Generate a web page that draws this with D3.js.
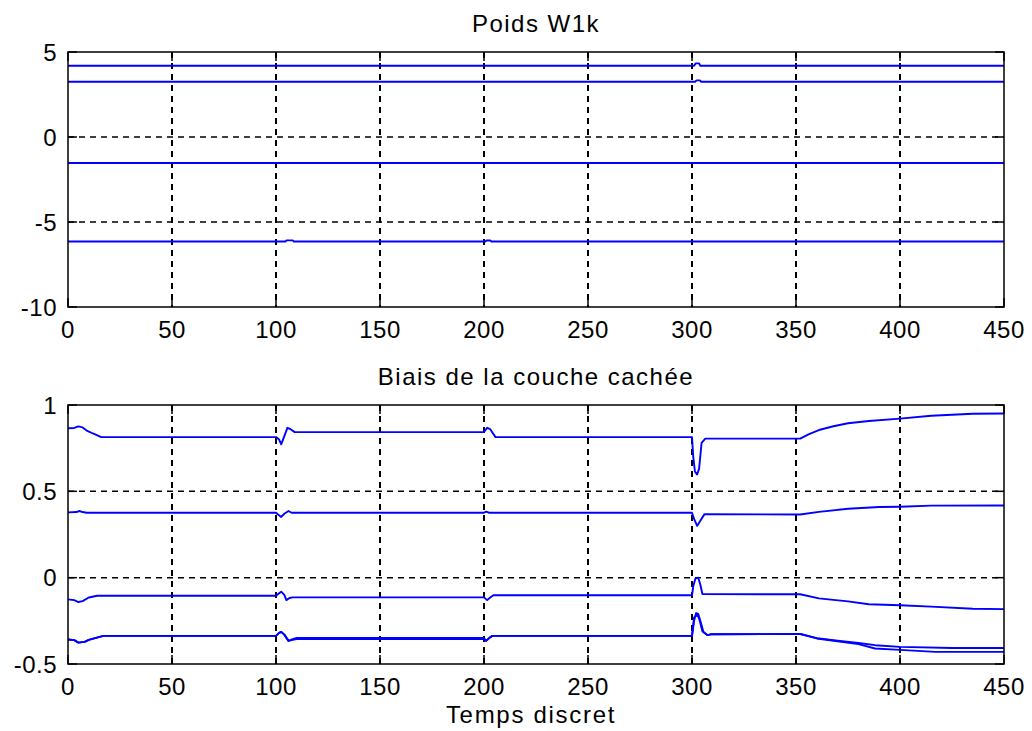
<!DOCTYPE html>
<html>
<head>
<meta charset="utf-8">
<script src="https://cdn.jsdelivr.net/npm/d3@7"></script>
<style>
  body { margin: 0; background: #fff; }
  text { font-family: "Liberation Sans", Arial, sans-serif; fill: #000; }
</style>
</head>
<body>
<div id="chart"></div>
<script>
// x ticks shared by both panels
const timeTicks = [0, 50, 100, 150, 200, 250, 300, 350, 400, 450];

// top panel: Poids W1k, points are [t, value]
const weightTicks = [-10, -5, 0, 5];
const w1 = [[0, 4.19], [301, 4.19], [301.8, 4.33], [303.4, 4.33], [304, 4.19], [450, 4.19]];
const w2 = [[0, 3.25], [301.5, 3.25], [302.2, 3.33], [303.8, 3.33], [304.4, 3.25], [450, 3.25]];
const w3 = [[0, -1.53], [450, -1.53]];
const w4 = [[0, -6.15], [104.5, -6.15], [105.2, -6.08], [108, -6.08], [108.6, -6.15],
            [200.6, -6.15], [201.2, -6.09], [203, -6.09], [203.6, -6.15], [450, -6.15]];

// bottom panel: Biais de la couche cachée
const biasTicks = [-0.5, 0, 0.5, 1];
const b1 = [[0, 0.865], [3, 0.867], [5, 0.876], [7, 0.87], [9, 0.852], [12, 0.835], [16, 0.814],
            [100, 0.814], [101.5, 0.8], [102.5, 0.772], [104, 0.82], [105.5, 0.868], [107, 0.86], [109, 0.843],
            [200, 0.843], [201.5, 0.868], [203, 0.86], [205.5, 0.814],
            [300, 0.814], [300.6, 0.7], [301.4, 0.615], [302.4, 0.597], [303.4, 0.63], [304.6, 0.78], [306.4, 0.805],
            [352, 0.805], [356, 0.83], [361, 0.855], [368, 0.877], [375, 0.894], [385, 0.907], [400, 0.921],
            [415, 0.938], [435, 0.949], [450, 0.951]];
const b2 = [[0, 0.378], [4, 0.38], [5.5, 0.386], [7, 0.38], [9, 0.376],
            [100, 0.376], [101, 0.366], [102.5, 0.352], [104, 0.37], [106, 0.386], [107.5, 0.376],
            [200, 0.376], [201, 0.382], [202.5, 0.376],
            [300, 0.376], [301, 0.34], [302.5, 0.3], [304, 0.33], [306, 0.368],
            [352, 0.366], [361, 0.381], [375, 0.399], [390, 0.409], [400, 0.411], [415, 0.417], [450, 0.418]];
const b3 = [[0, -0.126], [3, -0.13], [5, -0.141], [7, -0.136], [10, -0.115], [14, -0.105],
            [100, -0.105], [101.5, -0.09], [102.5, -0.081], [104, -0.1], [105, -0.13], [106.5, -0.118], [108, -0.114],
            [200, -0.114], [201.5, -0.13], [203, -0.115], [204.5, -0.102],
            [300, -0.102], [300.6, -0.05], [301.6, -0.006], [303, 0.0], [304, -0.04], [305, -0.095],
            [352, -0.096], [361, -0.12], [375, -0.137], [385, -0.154], [400, -0.16], [415, -0.168],
            [435, -0.18], [450, -0.182]];
const b4 = [[0, -0.358], [3, -0.362], [5, -0.376], [8, -0.372], [10, -0.36], [13, -0.35], [17, -0.337],
            [100, -0.337], [101.5, -0.32], [102.5, -0.314], [104, -0.33], [106, -0.366], [108, -0.356], [110, -0.349],
            [200, -0.349], [201, -0.366], [202.5, -0.35], [204, -0.337],
            [300, -0.337], [301, -0.25], [302, -0.205], [303, -0.21], [304, -0.25], [305.5, -0.314], [307.5, -0.333], [309, -0.328],
            [352, -0.326], [360, -0.35], [370, -0.365], [380, -0.378], [388, -0.391], [400, -0.401],
            [425, -0.407], [450, -0.407]];
const b5 = [[0, -0.358], [3, -0.362], [5, -0.376], [8, -0.372], [10, -0.36], [13, -0.35], [17, -0.337],
            [100, -0.337], [101.5, -0.32], [102.5, -0.314], [104, -0.33], [106, -0.366], [108, -0.36], [110, -0.355],
            [200, -0.355], [201, -0.366], [202.5, -0.35], [204, -0.337],
            [300, -0.337], [301, -0.23], [302.5, -0.215], [303.5, -0.24], [305, -0.31], [307.5, -0.333], [309, -0.328],
            [352, -0.326], [360, -0.352], [370, -0.368], [380, -0.385], [388, -0.41], [400, -0.418],
            [417, -0.43], [450, -0.43]];

const width = 1032, height = 731;
const svg = d3.select("#chart").append("svg")
    .attr("width", width)
    .attr("height", height);

const x = d3.scaleLinear().domain([0, 450]).range([68, 1004]);

function drawPanel(opts) {
    let y = d3.scaleLinear().domain(opts.domain).range([opts.bottom, opts.top]);
    let g = svg.append("g");

    // dashed grid
    g.selectAll(".vgrid")
        .data(timeTicks.slice(1, -1))
        .enter().append("line")
        .attr("x1", d => x(d)).attr("x2", d => x(d))
        .attr("y1", opts.top).attr("y2", opts.bottom)
        .attr("stroke", "#000")
        .attr("stroke-width", 2)
        .attr("stroke-dasharray", "6,5");
    g.selectAll(".hgrid")
        .data(opts.ticks.slice(1, -1))
        .enter().append("line")
        .attr("x1", x(0)).attr("x2", x(450))
        .attr("y1", d => y(d)).attr("y2", d => y(d))
        .attr("stroke", "#000")
        .attr("stroke-width", 1.5)
        .attr("stroke-dasharray", "6,5");

    // series
    let line = d3.line().x(d => x(d[0])).y(d => y(d[1]));
    g.selectAll(".series")
        .data(opts.series)
        .enter().append("path")
        .attr("d", line)
        .attr("fill", "none")
        .attr("stroke", "#0000ff")
        .attr("stroke-width", 1.9)
        .attr("stroke-linejoin", "round");

    // inward ticks on all four sides
    let tk = 9;
    timeTicks.forEach(t => {
        g.append("line").attr("x1", x(t)).attr("x2", x(t))
            .attr("y1", opts.bottom).attr("y2", opts.bottom - tk)
            .attr("stroke", "#000").attr("stroke-width", 1.5);
        g.append("line").attr("x1", x(t)).attr("x2", x(t))
            .attr("y1", opts.top).attr("y2", opts.top + tk)
            .attr("stroke", "#000").attr("stroke-width", 1.5);
    });
    opts.ticks.forEach(v => {
        g.append("line").attr("x1", x(0)).attr("x2", x(0) + tk)
            .attr("y1", y(v)).attr("y2", y(v))
            .attr("stroke", "#000").attr("stroke-width", 1.5);
        g.append("line").attr("x1", x(450)).attr("x2", x(450) - tk)
            .attr("y1", y(v)).attr("y2", y(v))
            .attr("stroke", "#000").attr("stroke-width", 1.5);
    });

    // frame
    g.append("rect")
        .attr("x", x(0)).attr("y", opts.top)
        .attr("width", x(450) - x(0)).attr("height", opts.bottom - opts.top)
        .attr("fill", "none")
        .attr("stroke", "#000")
        .attr("stroke-width", 1.5);

    // tick labels
    g.selectAll(".xlab")
        .data(timeTicks)
        .enter().append("text")
        .attr("x", d => x(d))
        .attr("y", opts.bottom + 31)
        .attr("text-anchor", "middle")
        .style("font-size", "24px")
        .style("letter-spacing", "0.5px")
        .text(d => d);
    g.selectAll(".ylab")
        .data(opts.ticks)
        .enter().append("text")
        .attr("x", 57)
        .attr("y", d => y(d))
        .attr("dy", "0.36em")
        .attr("text-anchor", "end")
        .style("font-size", "24px")
        .style("letter-spacing", "0.5px")
        .text(d => d);

    // title
    g.append("text")
        .attr("x", 536)
        .attr("y", opts.top - 20)
        .attr("text-anchor", "middle")
        .style("font-size", "24px")
        .style("letter-spacing", "1.5px")
        .text(opts.title);
}

drawPanel({
    title: "Poids W1k",
    domain: [-10, 5], ticks: weightTicks,
    top: 52, bottom: 307,
    series: [w1, w2, w3, w4]
});

drawPanel({
    title: "Biais de la couche cachée",
    domain: [-0.5, 1], ticks: biasTicks,
    top: 405, bottom: 664,
    series: [b1, b2, b3, b4, b5]
});

svg.append("text")
    .attr("x", 531)
    .attr("y", 723)
    .attr("text-anchor", "middle")
    .style("font-size", "24px")
    .style("letter-spacing", "1.7px")
    .text("Temps discret");
</script>
</body>
</html>
